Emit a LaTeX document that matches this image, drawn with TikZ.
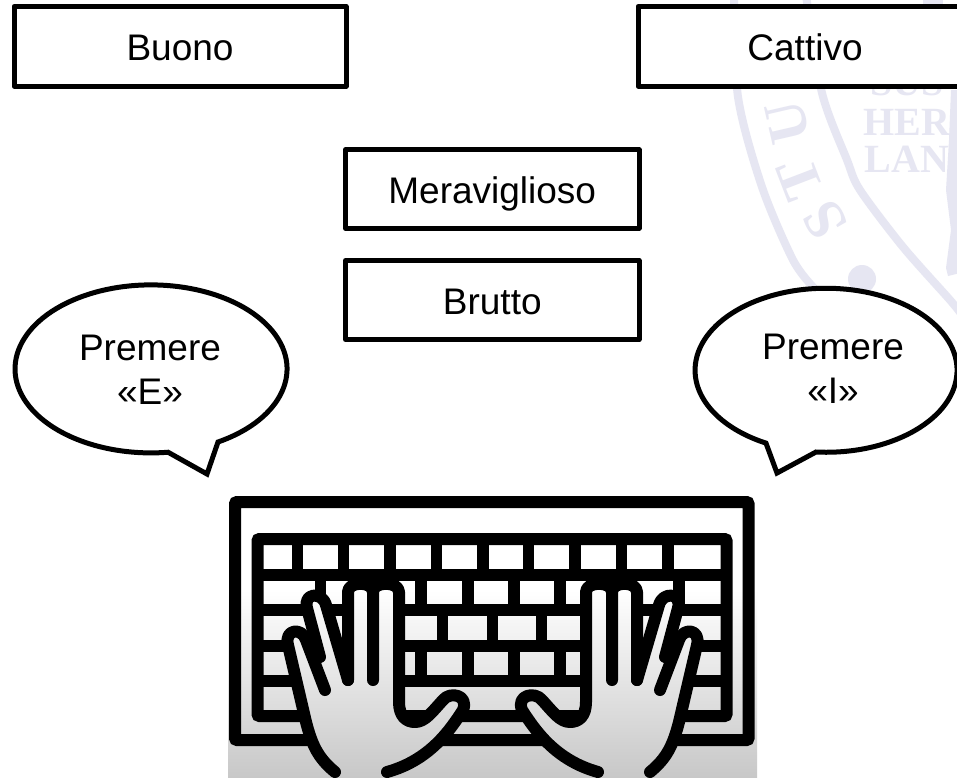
\documentclass[tikz,border=0pt]{standalone}
\usepackage{fontspec}
\setmainfont{Liberation Sans}
\newfontfamily\sealfont{Liberation Serif}
\definecolor{seal}{HTML}{E6E6F2}
\definecolor{gradend}{HTML}{C8C8C8}
\newcommand{\gradrect}{%
  \fill[white] (228,480) rectangle (757,592);
  \shade[top color=white,bottom color=gradend] (228,590) rectangle (757,777);}
\newcommand{\handfillpath}{(335,772) .. controls (318,758) and (312,745) .. (306,722) -- (288,645) .. controls (284,629) and (302,627) .. (306,640) -- (320,657) -- (307,608) .. controls (303,593) and (322,591) .. (326,605) -- (348,680) -- (348,592) .. controls (348,581) and (373,581) .. (373,592) -- (373,680) -- (373,592) .. controls (373,581) and (399,581) .. (399,592) -- (399,702) .. controls (399,716) and (406,722) .. (415,722) .. controls (425,722) and (432,712) .. (443,700) .. controls (450,691) and (469,695) .. (463,710) .. controls (450,730) and (430,760) .. (387,772) -- cycle}
\newcommand{\handstroke}{%
  \draw[inkline] (335,772) .. controls (318,758) and (312,745) .. (306,722) -- (288,645) .. controls (284,629) and (302,627) .. (306,640) -- (325,690);
  \draw[inkline] (320,657) -- (307,608) .. controls (303,593) and (322,591) .. (326,605) -- (348,680);
  \draw[inkline] (348,680) -- (348,592) .. controls (348,581) and (373,581) .. (373,592) -- (373,680) -- (373,592) .. controls (373,581) and (399,581) .. (399,592) -- (399,702) .. controls (399,716) and (406,722) .. (415,722) .. controls (425,722) and (432,712) .. (443,700) .. controls (450,691) and (469,695) .. (463,710) .. controls (450,730) and (430,760) .. (387,772);}
\newcommand{\wholehand}{%
  \begin{scope}\clip \handfillpath; \gradrect \end{scope}
  \handstroke}
\tikzset{
  inkline/.style={line width=12pt,black,line cap=round,line join=round},
  sealline/.style={line width=8pt,seal},
  sealtext/.style={text=seal,font=\sealfont\bfseries\fontsize{40}{40}\selectfont,anchor=base,inner sep=0pt},
  sealletter/.style={text=seal,font=\sealfont\bfseries\fontsize{58}{58}\selectfont,inner sep=0pt},
  labelbox/.style={draw=black,fill=white,line width=5pt,line join=round,minimum height=79.5pt,inner sep=0pt,
    text height=28pt,text depth=0pt,font=\fontsize{37}{44}\selectfont},
  bubble/.style={draw=black,fill=white,line width=5pt,line join=miter},
  bubbletext/.style={align=center,inner sep=0pt,font=\fontsize{37}{44}\selectfont},
}
\begin{document}
\begin{tikzpicture}[x=1pt,y=-1pt]
\useasboundingbox (0,0) rectangle (957,777);
\clip (0,0) rectangle (957,777);
\fill[white] (0,0) rectangle (957,777);
% watermark
\draw[sealline] plot[smooth] coordinates {(734,-5) (738,97) (762,187) (793,260) (814,288)};
\draw[sealline] plot[smooth] coordinates {(806,-5) (822,93) (847,160) (860,190) (903,247) (950,300) (962,315)};
\fill[seal] (862,279) circle[radius=14];
\fill[seal] (951,90) -- (960,90) -- (960,273) -- (948,276) -- (946,268) -- (951,230) -- (946,190) -- (949,140) -- cycle;
\fill[seal] (923,-2) rectangle (943,4);
\node[sealtext] (sus) at (907,95) {SUS};
\node[sealtext] (her) at (907,135) {HER};
\node[sealtext] (lan) at (907,172) {LAN};
\node[sealletter,rotate=103] (lu) at (788,122) {U};
\node[sealletter,rotate=111] (lt) at (800,179) {T};
\node[sealletter,rotate=120] (ls) at (825,220) {S};
% boxes
\node[labelbox,minimum width=332pt] (buono) at (180,46.25) {Buono};
\node[labelbox,minimum width=334pt] (cattivo) at (805,46.25) {Cattivo};
\node[labelbox,minimum width=293.5pt,minimum height=78.5pt] (merav) at (492.25,189) {Meraviglioso};
\node[labelbox,minimum width=293.5pt,minimum height=79pt] (brutto) at (492.25,300) {Brutto};
% bubbles
\draw[bubble] (218,442) arc[start angle=60.5,end angle=-277.2,x radius=136,y radius=84] -- (207,474) -- cycle;
\draw[bubble] (816,452) arc[start angle=94.4,end angle=-242.7,x radius=131,y radius=82] -- (777,473) -- cycle;
\node[bubbletext] (pe) at (150,370) {Premere\\«E»};
\node[bubbletext] (pi) at (833,369) {Premere\\«I»};
% keyboard image
\gradrect
\draw[line width=12pt,rounded corners=2pt] (235,502) rectangle (748.5,740);
\draw[line width=12pt,rounded corners=2pt] (257.5,539) rectangle (726.5,716);
\foreach \yy in {575,610,645.5,681} \draw[line width=12pt] (257.5,\yy) -- (726.5,\yy);
\foreach \xx in {297.5,343.5,390,436.5,483,528.5,575,621.5,668} \draw[line width=11.5pt] (\xx,539) -- (\xx,575);
\foreach \xx in {320.5,421,468,514,560,679} \draw[line width=11.5pt] (\xx,575) -- (\xx,610);
\foreach \xx in {442.5,492.5,541.5} \draw[line width=11.5pt] (\xx,610) -- (\xx,645.5);
\foreach \xx in {421,468,514,560} \draw[line width=11.5pt] (\xx,645.5) -- (\xx,681);
\wholehand
\begin{scope}[shift={(985,0)},xscale=-1]
\wholehand
\end{scope}
\end{tikzpicture}
\end{document}
